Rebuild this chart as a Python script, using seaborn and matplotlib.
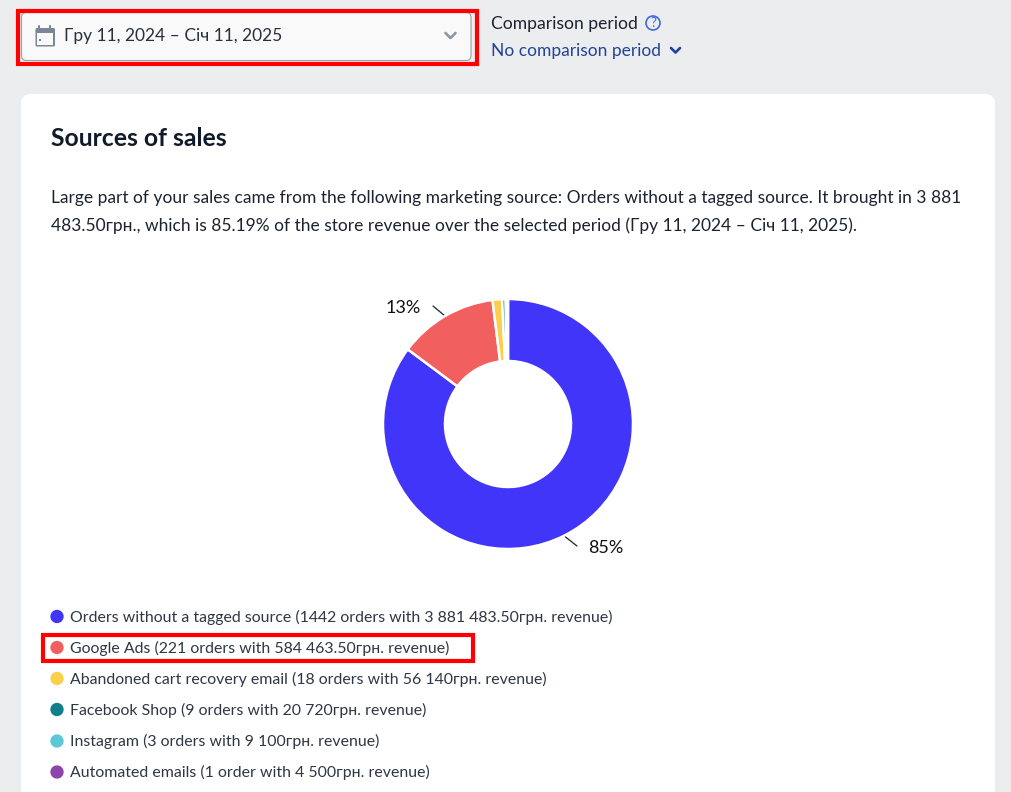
import matplotlib
matplotlib.use("Agg")
import matplotlib.pyplot as plt
from matplotlib.patches import FancyBboxPatch, Rectangle, Circle
import seaborn as sns
import pandas as pd

sources = ["Orders without a tagged source", "Google Ads", "Abandoned cart recovery email",
           "Facebook Shop", "Instagram", "Automated emails"]
orders = ["1442 orders", "221 orders", "18 orders", "9 orders", "3 orders", "1 order"]
revenue = [3881483.5, 584463.5, 56140, 20720, 9100, 4500]
revenue_text = ["3 881 483.50", "584 463.50", "56 140", "20 720", "9 100", "4 500"]
colors = ["#4035F8", "#F25F5F", "#FBCF4B", "#0F7F8C", "#5CC8D7", "#8E44AD"]
pct_labels = ["85%", "13%"]
title = "Sources of sales"
para_1 = "Large part of your sales came from the following marketing source: Orders without a tagged source. It brought in 3 881"
para_2 = "483.50грн., which is 85.19% of the store revenue over the selected period (Гру 11, 2024 – Січ 11, 2025)."
date_range = "Гру 11, 2024 – Січ 11, 2025"

sns.set_theme(style="white")
plt.rcParams["font.family"] = ["Lato", "Noto Sans", "DejaVu Sans"]

W, H = 1012, 792
fig = plt.figure(figsize=(W / 100, H / 100), dpi=100, facecolor="#ECEDEF")
ui = fig.add_axes([0, 0, 1, 1], zorder=1)
ui.set_xlim(0, W); ui.set_ylim(H, 0); ui.axis("off")

INK = "#1B2330"
BODY = "#2E3744"
BLUE = "#23439B"

def box(x0, y0, x1, y1, r, fc, ec="none", lw=0, z=1):
    ui.add_patch(FancyBboxPatch((x0 + r, y0 + r), x1 - x0 - 2 * r, y1 - y0 - 2 * r,
                                boxstyle=f"round,pad={r},rounding_size={r}",
                                fc=fc, ec=ec, lw=lw, zorder=z))

# white card
box(21, 94, 995, 830, 10, "white", z=1)

# date picker with red highlight
ui.add_patch(Rectangle((18.5, 11), 459, 53, fc="none", ec="#FE0000", lw=3.0, zorder=4))
box(21.5, 12.5, 471, 60.5, 5, "#F9F9FA", ec="#9AA0A8", lw=0.8, z=2)
# calendar icon
box(35.5, 28, 55, 46.5, 1.5, "#7A8694", z=3)
ui.add_patch(Rectangle((37.5, 33), 15.5, 11.5, fc="#F9F9FA", ec="none", zorder=3.1))
ui.add_patch(Rectangle((39, 38.5), 2, 2, fc="#7A8694", ec="none", zorder=3.2))
for xx in (39.5, 50.5):
    ui.plot([xx, xx], [26, 29], color="#7A8694", lw=1.5, zorder=3.2)
ui.text(64.5, 35.5, date_range, fontsize=12.5, color="#27303D", va="center", ha="left", zorder=5)
ui.plot([445.5, 450.5, 455.5], [33, 38, 33], color="#8C96A1", lw=1.9, zorder=5)

# comparison period
ui.text(491.5, 24, "Comparison period", fontsize=12.6, color=INK, va="center", ha="left", zorder=5)
ui.add_patch(Circle((653, 23), 7, fc="none", ec="#3F6AE0", lw=1.2, zorder=5))
ui.text(653, 23, "?", fontsize=9.5, color="#3F6AE0", va="center", ha="center", zorder=5)
ui.text(491.5, 51, "No comparison period", fontsize=12.5, color=BLUE, va="center", ha="left", zorder=5)
ui.plot([671, 675.5, 680], [48, 52.5, 48], color=BLUE, lw=1.9, zorder=5)

# heading and paragraph
ui.text(51, 138, title, fontsize=17.85, fontweight="bold", color="#111A28", va="center", ha="left", zorder=5)
ui.text(51, 198.5, para_1, fontsize=12.47, color=INK, va="center", ha="left", zorder=5)
ui.text(51, 226, para_2, fontsize=12.47, color=INK, va="center", ha="left", zorder=5)

# donut
cx, cy, R = 508, 424, 125
pie_ax = fig.add_axes([(cx - R) / W, (H - cy - R) / H, 2 * R / W, 2 * R / H], zorder=2)
pie_ax.pie(revenue, colors=colors, startangle=90, counterclock=False, radius=1.0,
           wedgeprops=dict(width=62 / 125, edgecolor="white", linewidth=1.8))
pie_ax.set_xlim(-1, 1); pie_ax.set_ylim(-1, 1)
pie_ax.patch.set_alpha(0)

# slice labels
ui.plot([563, 577], [535, 546], color="#1B2330", lw=0.9, zorder=5)
ui.text(606, 548, pct_labels[0], fontsize=13, color="#111111", va="center", ha="center", zorder=5)
ui.plot([433, 445], [306, 316], color="#1B2330", lw=0.9, zorder=5)
ui.text(403.5, 308, pct_labels[1], fontsize=13, color="#111111", va="center", ha="center", zorder=5)

# legend
ys = [616.5, 647.5, 678.5, 709.5, 741, 772]
legend = pd.DataFrame({"x": [57] * len(sources), "y": ys, "source": sources})
sns.scatterplot(data=legend, x="x", y="y", hue="source", palette=colors, s=92,
                linewidth=0, legend=False, ax=ui, zorder=6)
ui.set_xlim(0, W); ui.set_ylim(H, 0); ui.axis("off")
for s, o, r, y in zip(sources, orders, revenue_text, ys):
    ui.text(70, y + 0.5, f"{s} ({o} with {r}грн. revenue)", fontsize=11.42, color=BODY,
            va="center", ha="left", zorder=6)

# red highlight round Google Ads
ui.add_patch(Rectangle((43, 635), 430, 26, fc="none", ec="#FE0000", lw=3.0, zorder=7))

fig.savefig("out.png", dpi=100, facecolor=fig.get_facecolor())
